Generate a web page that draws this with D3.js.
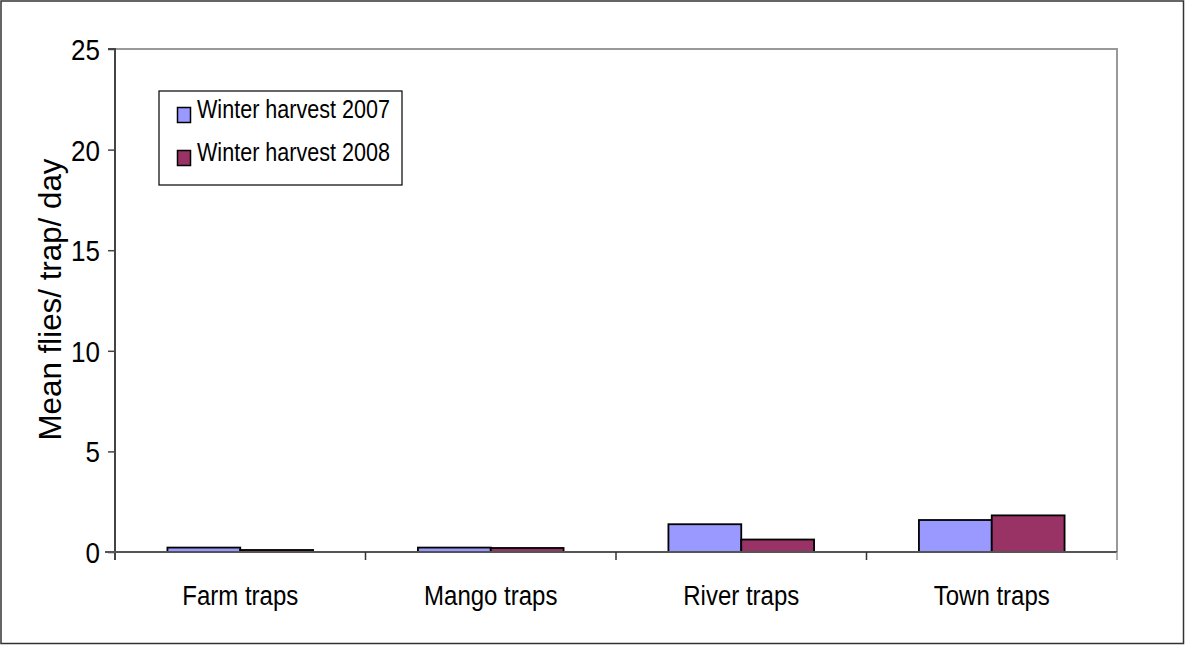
<!DOCTYPE html>
<html>
<head>
<meta charset="utf-8">
<script src="https://cdn.jsdelivr.net/npm/d3@7"></script>
<style>
  html, body { margin: 0; padding: 0; background: #fff; }
  svg { display: block; }
  text { font-family: "Liberation Sans", Arial, sans-serif; fill: #000; }
</style>
</head>
<body>
<svg id="chart" width="1185" height="645"></svg>
<script>
// Trap sites and mean catches per season
const categories = ["Farm traps", "Mango traps", "River traps", "Town traps"];
const seriesNames = ["Winter harvest 2007", "Winter harvest 2008"];
const harvest2007 = [0.22, 0.22, 1.38, 1.59];
const harvest2008 = [0.1, 0.2, 0.62, 1.82];
const yTicks = [0, 5, 10, 15, 20, 25];
const colors = ["#9999FF", "#993366"];

const series = [harvest2007, harvest2008];

const svg = d3.select("#chart");
const W = 1185, H = 645;
const plot = { left: 115, top: 49, right: 1117, bottom: 552 };

// Narrow, tall lettering: measure at the base size, then draw larger squeezed to that width
function condense(sel, baseSize, drawSize) {
  sel.each(function () {
    const t = d3.select(this);
    t.style("font-size", baseSize + "px");
    const w = this.getComputedTextLength();
    t.style("font-size", drawSize + "px")
      .attr("textLength", w).attr("lengthAdjust", "spacingAndGlyphs");
  });
}

// Outer frame
svg.append("rect")
  .attr("x", 1).attr("y", 1).attr("width", W - 2.5).attr("height", H - 2.5)
  .attr("fill", "#fff").attr("stroke", "#333").attr("stroke-width", 1.5);

const x0 = d3.scaleBand().domain(categories)
  .range([plot.left, plot.right]).paddingInner(0).paddingOuter(0);
// Bars fill ~58% of each category slot
const x1 = d3.scaleBand().domain(d3.range(series.length))
  .range([0, x0.bandwidth()]).paddingOuter(0.72).paddingInner(0);
const y = d3.scaleLinear().domain([0, 25]).range([plot.bottom, plot.top]);

// Plot area border (top and right)
svg.append("path")
  .attr("d", `M${plot.left},${plot.top}H${plot.right}V${plot.bottom}`)
  .attr("fill", "none").attr("stroke", "#999").attr("stroke-width", 2);

// Bars
const groups = svg.append("g").selectAll("g")
  .data(categories).join("g")
  .attr("transform", d => `translate(${x0(d)},0)`);

groups.selectAll("rect")
  .data((d, i) => series.map((s, k) => ({ k, v: s[i] })))
  .join("rect")
  .attr("x", d => x1(d.k))
  .attr("width", x1.bandwidth())
  .attr("y", d => y(d.v))
  .attr("height", d => y(0) - y(d.v))
  .attr("fill", d => colors[d.k])
  .attr("stroke", "#000").attr("stroke-width", 1.8);

// Y axis
const yAxis = d3.axisLeft(y).tickValues(yTicks).tickSize(7).tickPadding(8)
  .tickFormat(d3.format("d"));
const gy = svg.append("g").attr("transform", `translate(${plot.left},0)`).call(yAxis);
gy.select(".domain").attr("stroke", "#444").attr("stroke-width", 2)
  .attr("d", `M-7,${plot.top}H0V${plot.bottom + 8}`);
gy.selectAll(".tick line").attr("stroke", "#444").attr("stroke-width", 1.5);
gy.selectAll(".tick text")
  .style("font-family", "'Liberation Sans', Arial, sans-serif")
  .attr("fill", "#000").attr("dy", "0.36em")
  .call(condense, 26, 29);

// X axis: ticks at category boundaries
const gx = svg.append("g");
gx.append("line")
  .attr("x1", plot.left - 10).attr("x2", plot.right)
  .attr("y1", plot.bottom).attr("y2", plot.bottom)
  .attr("stroke", "#555").attr("stroke-width", 2);
const boundaries = categories.map(c => x0(c)).concat([plot.right]);
gx.selectAll("line.tk").data(boundaries.slice(1)).join("line")
  .attr("class", "tk")
  .attr("x1", d => d).attr("x2", d => d)
  .attr("y1", plot.bottom).attr("y2", plot.bottom + 8)
  .attr("stroke", d => d === plot.right ? "#999" : "#333")
  .attr("stroke-width", 1.5);
gx.selectAll("text").data(categories).join("text")
  .attr("x", d => x0(d) + x0.bandwidth() / 2)
  .attr("y", 605)
  .attr("text-anchor", "middle")
  .text(d => d)
  .call(condense, 24, 27);

// Y axis title
svg.append("text")
  .attr("transform", `translate(61,${(plot.top + plot.bottom) / 2 - 1}) rotate(-90)`)
  .attr("text-anchor", "middle")
  .style("font-size", "32px")
  .attr("textLength", 282).attr("lengthAdjust", "spacingAndGlyphs")
  .text("Mean flies/ trap/ day");

// Legend
const legend = svg.append("g");
legend.append("rect")
  .attr("x", 159).attr("y", 91).attr("width", 243).attr("height", 94)
  .attr("fill", "#fff").attr("stroke", "#000").attr("stroke-width", 1.2);
const items = legend.selectAll("g.item").data(seriesNames).join("g")
  .attr("class", "item")
  .attr("transform", (d, i) => `translate(0,${i * 43})`);
items.append("rect")
  .attr("x", 177.5).attr("y", 107.5).attr("width", 13).attr("height", 15)
  .attr("fill", (d, i) => colors[i]).attr("stroke", "#000").attr("stroke-width", 1.5);
items.append("text")
  .attr("x", 197).attr("y", 118)
  .style("font-size", "25px")
  .attr("textLength", 193).attr("lengthAdjust", "spacingAndGlyphs")
  .text(d => d);
</script>
</body>
</html>
